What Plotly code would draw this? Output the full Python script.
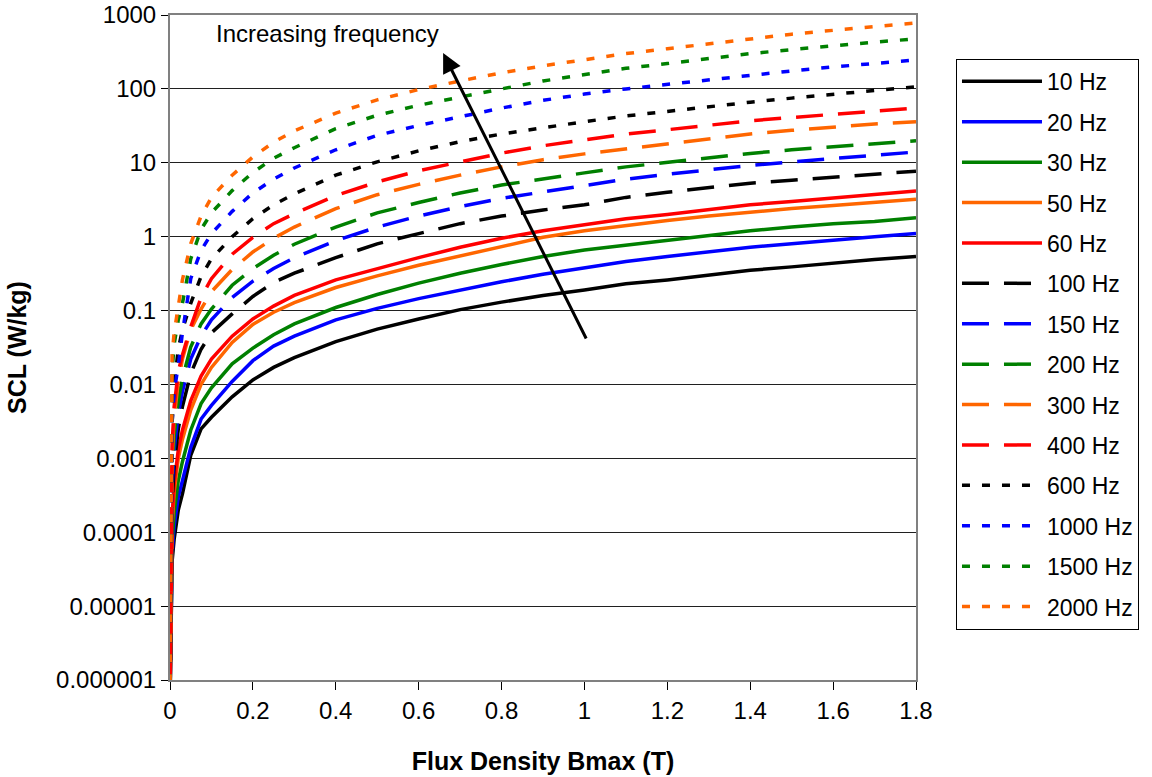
import plotly.graph_objects as go

# Flux density grid (T)
B = [0, 0.005, 0.01, 0.02, 0.03, 0.05, 0.075, 0.1, 0.15, 0.2, 0.25, 0.3, 0.4, 0.5,
     0.6, 0.7, 0.8, 0.9, 1.0, 1.1, 1.2, 1.3, 1.4, 1.5, 1.6, 1.7, 1.8]

# Specific core loss (W/kg) per frequency
scl_10 = [5e-7, 4e-5, 8e-5, 2e-4, 3.3e-4, 1.1e-3, 2.5e-3, 3.6e-3, 6.8e-3, 0.0115, 0.017, 0.023, 0.038, 0.056,
          0.077, 0.103, 0.13, 0.16, 0.19, 0.23, 0.26, 0.30, 0.35, 0.39, 0.44, 0.49, 0.54]
scl_20 = [5e-7, 5e-5, 1.2e-4, 3e-4, 5e-4, 1.4e-3, 3.4e-3, 5.2e-3, 0.011, 0.021, 0.033, 0.045, 0.075, 0.107,
          0.145, 0.19, 0.245, 0.31, 0.38, 0.46, 0.54, 0.63, 0.72, 0.80, 0.90, 1.0, 1.1]
scl_30 = [5e-7, 7e-5, 1.8e-4, 5e-4, 9e-4, 2.4e-3, 5.5e-3, 9e-3, 0.019, 0.031, 0.047, 0.066, 0.11, 0.165,
          0.235, 0.32, 0.42, 0.54, 0.66, 0.77, 0.88, 1.05, 1.2, 1.35, 1.5, 1.6, 1.8]
scl_50 = [5e-7, 1.2e-4, 3.5e-4, 1e-3, 1.8e-3, 4.5e-3, 0.01, 0.017, 0.037, 0.065, 0.095, 0.128, 0.205, 0.295,
          0.41, 0.55, 0.75, 0.98, 1.2, 1.42, 1.65, 1.9, 2.15, 2.4, 2.65, 2.95, 3.2]
scl_60 = [5e-7, 1.6e-4, 4.5e-4, 1.3e-3, 2.4e-3, 6e-3, 0.013, 0.022, 0.045, 0.077, 0.115, 0.16, 0.26, 0.37,
          0.52, 0.72, 0.95, 1.2, 1.45, 1.75, 2.0, 2.35, 2.7, 3.0, 3.35, 3.7, 4.15]
scl_100 = [5e-7, 2.5e-4, 8e-4, 2.5e-3, 5e-3, 0.014, 0.03, 0.05, 0.09, 0.155, 0.24, 0.32, 0.52, 0.8,
           1.1, 1.5, 1.9, 2.3, 2.7, 3.4, 4.0, 4.6, 5.3, 5.8, 6.4, 7.0, 7.7]
scl_150 = [5e-7, 4e-4, 1.3e-3, 4e-3, 8e-3, 0.022, 0.045, 0.075, 0.15, 0.25, 0.37, 0.52, 0.88, 1.35,
           1.9, 2.55, 3.3, 4.0, 4.85, 6.0, 7.0, 8.1, 9.2, 10.3, 11.5, 12.7, 14]
scl_200 = [5e-7, 6e-4, 2e-3, 6e-3, 0.012, 0.032, 0.066, 0.105, 0.22, 0.37, 0.56, 0.79, 1.35, 2.1,
           2.9, 3.9, 5.0, 6.1, 7.3, 8.8, 10.2, 11.8, 13.4, 15, 16.6, 18.2, 19.8]
scl_300 = [5e-7, 1e-3, 3.5e-3, 0.011, 0.022, 0.055, 0.105, 0.18, 0.36, 0.62, 0.95, 1.35, 2.4, 3.7,
           5.1, 6.8, 8.8, 11, 13.2, 15.5, 18, 21, 24.5, 27.5, 30.5, 33.5, 36]
scl_400 = [5e-7, 1.5e-3, 5e-3, 0.015, 0.025, 0.06, 0.15, 0.27, 0.58, 0.98, 1.5, 2.05, 3.6, 5.5,
           7.8, 10.4, 13.5, 17, 20.5, 24.5, 28, 32, 37, 41, 45.5, 50, 55]
scl_600 = [5e-7, 3e-3, 0.01, 0.03, 0.055, 0.125, 0.29, 0.5, 1.0, 1.75, 2.7, 3.8, 6.8, 10.3,
           14.5, 19.3, 24.5, 30, 36, 43, 50, 58, 66, 75, 85, 95, 107]
scl_1000 = [5e-7, 3e-3, 8e-3, 0.018, 0.05, 0.27, 0.65, 1.1, 2.2, 3.9, 6.0, 8.5, 15, 23.5,
            32, 42, 55, 70, 85, 100, 115, 135, 155, 175, 198, 222, 246]
scl_1500 = [5e-7, 0.015, 0.035, 0.075, 0.125, 0.5, 1.25, 2.1, 4.2, 7.4, 11.5, 16, 29, 44,
            60, 78, 100, 128, 158, 190, 220, 260, 300, 340, 385, 430, 475]
scl_2000 = [5e-7, 0.025, 0.05, 0.12, 0.26, 0.8, 1.9, 3.4, 6.8, 12, 19, 27, 47, 71,
            98, 128, 165, 205, 250, 300, 350, 410, 480, 550, 620, 700, 780]

names = ["10 Hz", "20 Hz", "30 Hz", "50 Hz", "60 Hz", "100 Hz", "150 Hz", "200 Hz",
         "300 Hz", "400 Hz", "600 Hz", "1000 Hz", "1500 Hz", "2000 Hz"]
series = [scl_10, scl_20, scl_30, scl_50, scl_60, scl_100, scl_150, scl_200,
          scl_300, scl_400, scl_600, scl_1000, scl_1500, scl_2000]

palette = ["#000000", "#0000FF", "#008000", "#FF6600", "#FF0000"]
colors = palette + palette + ["#000000", "#0000FF", "#008000", "#FF6600"]
dashes = ["solid"] * 5 + ["27px,15px"] * 5 + ["8px,12px"] * 4

y_tickvals = [1e3, 1e2, 1e1, 1, 0.1, 0.01, 0.001, 1e-4, 1e-5, 1e-6]
y_ticktext = ["1000", "100", "10", "1", "0.1", "0.01", "0.001", "0.0001", "0.00001", "0.000001"]

FONT = "Liberation Sans, Arial, sans-serif"

fig = go.Figure()
for i, (nm, ys) in enumerate(zip(names, series)):
    fig.add_trace(go.Scatter(
        x=B, y=ys, mode="lines", name=nm, legendgroup=nm,
        line=dict(color=colors[i], width=3.5, dash=dashes[i]),
    ))

fig.add_annotation(
    x=0.659, y=2.486, ax=1.006, ay=-1.398, xref="x", yref="y", axref="x", ayref="y",
    text="", showarrow=True, arrowhead=2, arrowsize=1.3, arrowwidth=3, arrowcolor="#000000",
)
fig.add_annotation(
    x=0.379, y=2.743, xref="x", yref="y", text="Increasing frequency", showarrow=False,
    font=dict(family=FONT, size=24, color="#000000"),
)

fig.update_layout(
    width=1152, height=777,
    paper_bgcolor="white", plot_bgcolor="white",
    margin=dict(l=170, r=236, t=15, b=97),
    font=dict(family=FONT, color="#000000"),
    legend=dict(
        x=1.0536, y=0.934, xanchor="left", yanchor="top",
        bordercolor="#000000", borderwidth=1, bgcolor="white",
        font=dict(family=FONT, size=23, color="#000000"),
        tracegroupgap=7.5, itemwidth=80,
    ),
    showlegend=True,
)
fig.update_xaxes(
    range=[0, 1.8], dtick=0.2, tick0=0, automargin=False,
    showgrid=False, zeroline=False,
    showline=True, linecolor="#808080", linewidth=2, mirror=True,
    ticks="outside", ticklen=8, tickcolor="#000000", tickwidth=1,
    tickfont=dict(family="Liberation Sans Narrow, Arial Narrow, " + FONT, size=24, color="#000000"),
    title=dict(text="<b>Flux Density Bmax (T)</b>", font=dict(family=FONT, size=25, color="#000000"),
               standoff=30),
)
fig.update_yaxes(
    type="log", range=[-6, 3], automargin=False, ticklabeloverflow="allow",
    tickvals=y_tickvals, ticktext=y_ticktext,
    showgrid=True, gridcolor="#202020", gridwidth=1, zeroline=False,
    showline=True, linecolor="#808080", linewidth=2, mirror=True,
    ticks="outside", ticklen=7, tickcolor="#000000", tickwidth=1,
    tickfont=dict(family=FONT, size=24, color="#000000"),
    title=dict(text="<b>SCL (W/kg)</b>", font=dict(family=FONT, size=25, color="#000000"),
               standoff=22),
)

fig.write_html(
    "out.html",
    config={"displayModeBar": False},
    post_script="document.body.style.margin='0px';document.body.style.overflow='hidden';",
)
